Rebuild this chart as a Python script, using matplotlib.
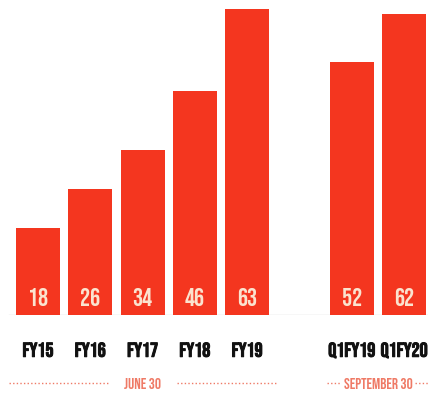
import matplotlib
matplotlib.use('Agg')
from matplotlib import pyplot as plt
import matplotlib.transforms as mtransforms
import matplotlib.patheffects as pe

# fiscal-year bars then the two quarter bars, with an empty slot between the groups
categories = ['FY15', 'FY16', 'FY17', 'FY18', 'FY19', 'Q1FY19', 'Q1FY20']
values = [18, 26, 34, 46, 63, 52, 62]
positions = [0, 1, 2, 3, 4, 6, 7]
group_labels = ['JUNE 30', 'SEPTEMBER 30']

bar_color = '#f4361f'
num_color = '#fbe3cf'
note_color = '#ef7a66'
font = ['Bebas Neue', 'DejaVu Sans']

fig = plt.figure(figsize=(4.28, 3.96), dpi=100)
ax = fig.add_axes([0, 81 / 396, 1, 315 / 396])

ax.bar(positions, values, width=0.84, color=bar_color, zorder=2)
for x, v in zip(positions, values):
	ax.text(x, 3.7, str(v), ha='center', va='center', color=num_color,
			fontsize=18, family=font, zorder=3)

ax.set_xlim(-0.727, 7.457)
ax.set_ylim(0, 64.8)
ax.axhline(0, color='#d8d8d8', lw=1, zorder=1, xmin=0.02)

for side in ax.spines.values():
	side.set_visible(False)
ax.set_yticks([])
ax.set_xticks(positions)
ax.set_xticklabels(categories, fontsize=14.5, family=font, color='#111111')
ax.tick_params(axis='x', length=0, pad=20)
# heavier look for the category names
for lab in ax.get_xticklabels():
	lab.set_path_effects([pe.withStroke(linewidth=0.7, foreground='#111111')])

# group notes under the axis: dotted rule with the date in the middle
trans = mtransforms.blended_transform_factory(ax.transData, ax.transAxes)
yy = -0.216
for (a, b), (c, d), label, mid in [
		((-0.55, 1.38), (2.65, 4.55), group_labels[0], 2),
		((5.53, 5.78), (7.2, 7.46), group_labels[1], 6.5)]:
	ax.plot([a, b], [yy, yy], transform=trans, clip_on=False, color=note_color, ls=(0, (1, 1.6)), lw=1)
	ax.plot([c, d], [yy, yy], transform=trans, clip_on=False, color=note_color, ls=(0, (1, 1.6)), lw=1)
	ax.text(mid, yy, label, transform=trans, ha='center', va='center', color=note_color,
			fontsize=11, family=font)

fig.savefig('out.png', dpi=100)
